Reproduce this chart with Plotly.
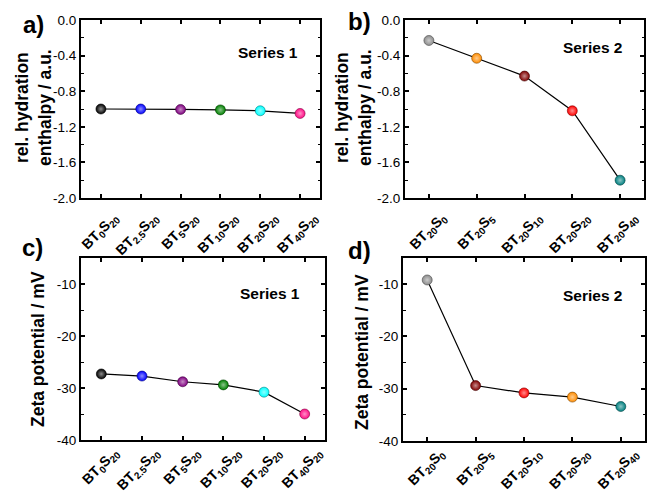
import plotly.graph_objects as go

# ---- data ----
cats1 = ["BT<sub>0</sub>S<sub>20</sub>", "BT<sub>2.5</sub>S<sub>20</sub>", "BT<sub>5</sub>S<sub>20</sub>",
         "BT<sub>10</sub>S<sub>20</sub>", "BT<sub>20</sub>S<sub>20</sub>", "BT<sub>40</sub>S<sub>20</sub>"]
cats2_b = ["BT<sub>20</sub>S<sub>0</sub>", "BT<sub>20</sub>S<sub>5</sub>", "BT<sub>20</sub>S<sub>10</sub>",
           "BT<sub>20</sub>S<sub>20</sub>", "BT<sub>20</sub>S<sub>40</sub>"]
cats2_d = ["BT<sub>20</sub>S<sub>0</sub>", "BT<sub>20</sub>S<sub>5</sub>", "BT<sub>20</sub>S<sub>10</sub>",
           "BT<sub>20</sub>S<sub>20</sub>", "BT<sub>20</sub>S<sub>40</sub>"]

enthalpy1 = [-1.00, -1.00, -1.005, -1.01, -1.02, -1.05]
enthalpy2 = [-0.23, -0.43, -0.63, -1.02, -1.80]
zeta1 = [-27.3, -27.7, -28.8, -29.4, -30.8, -35.0]
zeta2 = [-9.2, -29.4, -30.8, -31.6, -33.4]

enthalpy_tickvals = [-2.0, -1.6, -1.2, -0.8, -0.4, 0.0]
enthalpy_ticktext = ["-2.0", "-1.6", "-1.2", "-0.8", "-0.4", "0.0"]
zeta_tickvals = [-40, -30, -20, -10]
zeta_ticktext = ["-40", "-30", "-20", "-10"]

colors1 = ["#000000", "#0000ff", "#800080", "#008000", "#00ffff", "#ff0a84"]
colors2_b = ["#8c8c8c", "#ff8c00", "#800000", "#ff0000", "#008080"]
colors2_d = ["#8c8c8c", "#800000", "#ff0000", "#ff8c00", "#008080"]


def tint(hexc, f=0.55):
    h = hexc.lstrip("#")
    r, g, b = int(h[0:2], 16), int(h[2:4], 16), int(h[4:6], 16)
    r = int(r + (255 - r) * f); g = int(g + (255 - g) * f); b = int(b + (255 - b) * f)
    return f"rgb({r},{g},{b})"


def shade(hexc, f=0.5):
    h = hexc.lstrip("#")
    r, g, b = int(h[0:2], 16), int(h[2:4], 16), int(h[4:6], 16)
    return f"rgb({int(r*f)},{int(g*f)},{int(b*f)})"


W, H = 648, 492
FONT = "Liberation Sans, Arial, sans-serif"

fig = go.Figure()

panels = [
    (cats1, enthalpy1, colors1, "x", "y", (81, 320), (20, 198), [-2.0, 0.0], enthalpy_tickvals, enthalpy_ticktext, 0.2, 4),
    (cats2_b, enthalpy2, colors2_b, "x2", "y2", (405, 644), (20, 198), [-2.0, 0.0], enthalpy_tickvals, enthalpy_ticktext, 0.2, 4),
    (cats1, zeta1, colors1, "x3", "y3", (81, 325), (258, 440), [-40, -5], zeta_tickvals, zeta_ticktext, 5, -3),
    (cats2_d, zeta2, colors2_d, "x4", "y4", (403, 645), (258, 441), [-40, -5], zeta_tickvals, zeta_ticktext, 5, -3),
]

layout = {}
for i, (xs, ys, cols, xa, ya, xd, yd, yr, tv, tt, mn, so) in enumerate(panels):
    fig.add_trace(go.Scatter(
        x=xs, y=ys, xaxis=xa, yaxis=ya, mode="lines+markers",
        line=dict(color="black", width=1.2),
        marker=dict(size=10, color=cols,
                    gradient=dict(type="radial", color=[tint(c) for c in cols]),
                    line=dict(width=0.6, color=[shade(c) for c in cols])),
        showlegend=False, hoverinfo="skip"))
    xk = "xaxis" if i == 0 else f"xaxis{i+1}"
    yk = "yaxis" if i == 0 else f"yaxis{i+1}"
    layout[xk] = dict(
        domain=[xd[0] / W, xd[1] / W], anchor=ya, type="category", automargin=False,
        categoryorder="array", categoryarray=xs, range=[-0.5, len(xs) - 0.5],
        showline=True, linecolor="black", linewidth=2, mirror="allticks",
        ticks="inside", ticklen=4, tickwidth=1.5, tickcolor="black",
        tickangle=-45, ticklabelshift=13, ticklabelstandoff=so,
        tickfont=dict(family=FONT, size=14, color="black", weight="bold"),
        showgrid=False, zeroline=False, fixedrange=True)
    layout[yk] = dict(
        domain=[1 - yd[1] / H, 1 - yd[0] / H], anchor=xa, range=yr, automargin=False,
        tickmode="array", tickvals=tv, ticktext=tt,
        showline=True, linecolor="black", linewidth=2, mirror="allticks",
        ticks="inside", ticklen=4, tickwidth=1.5, tickcolor="black",
        minor=dict(ticks="inside", ticklen=2.5, tickwidth=1, tickcolor="black", dtick=mn, tick0=yr[0]),
        tickfont=dict(family=FONT, size=13.5, color="black"),
        showgrid=False, zeroline=False, fixedrange=True)

annotations = []
labels = [("a)", 33, 25), ("b)", 359, 22), ("c)", 32, 247), ("d)", 359, 250)]
for t, px, py in labels:
    annotations.append(dict(text=f"<b>{t}</b>", x=px / W, y=1 - py / H, xref="paper", yref="paper",
                            showarrow=False, font=dict(family=FONT, size=24, color="black"),
                            xanchor="center", yanchor="middle"))
series = [("Series 1", 268, 52), ("Series 2", 592, 48), ("Series 1", 270, 293), ("Series 2", 592, 295)]
for t, px, py in series:
    annotations.append(dict(text=f"<b>{t}</b>", x=px / W, y=1 - py / H, xref="paper", yref="paper",
                            showarrow=False, font=dict(family=FONT, size=15.5, color="black"),
                            xanchor="center", yanchor="middle"))
ytitles = [("<b>rel. hydration<br>enthalpy / a.u.</b>", 34, 108),
           ("<b>rel. hydration<br>enthalpy / a.u.</b>", 354, 108),
           ("<b>Zeta potential / mV</b>", 38, 349),
           ("<b>Zeta potential / mV</b>", 362, 352)]
for t, px, py in ytitles:
    annotations.append(dict(text=t, x=px / W, y=1 - py / H, xref="paper", yref="paper",
                            showarrow=False, textangle=-90, font=dict(family=FONT, size=17.5, color="black"),
                            xanchor="center", yanchor="middle"))

fig.update_layout(
    width=W, height=H, margin=dict(l=0, r=0, t=0, b=0),
    paper_bgcolor="white", plot_bgcolor="white",
    annotations=annotations, **layout)

fig.write_html("out.html", config={"displayModeBar": False},
               post_script="document.body.style.margin='0';document.body.style.overflow='hidden';")
